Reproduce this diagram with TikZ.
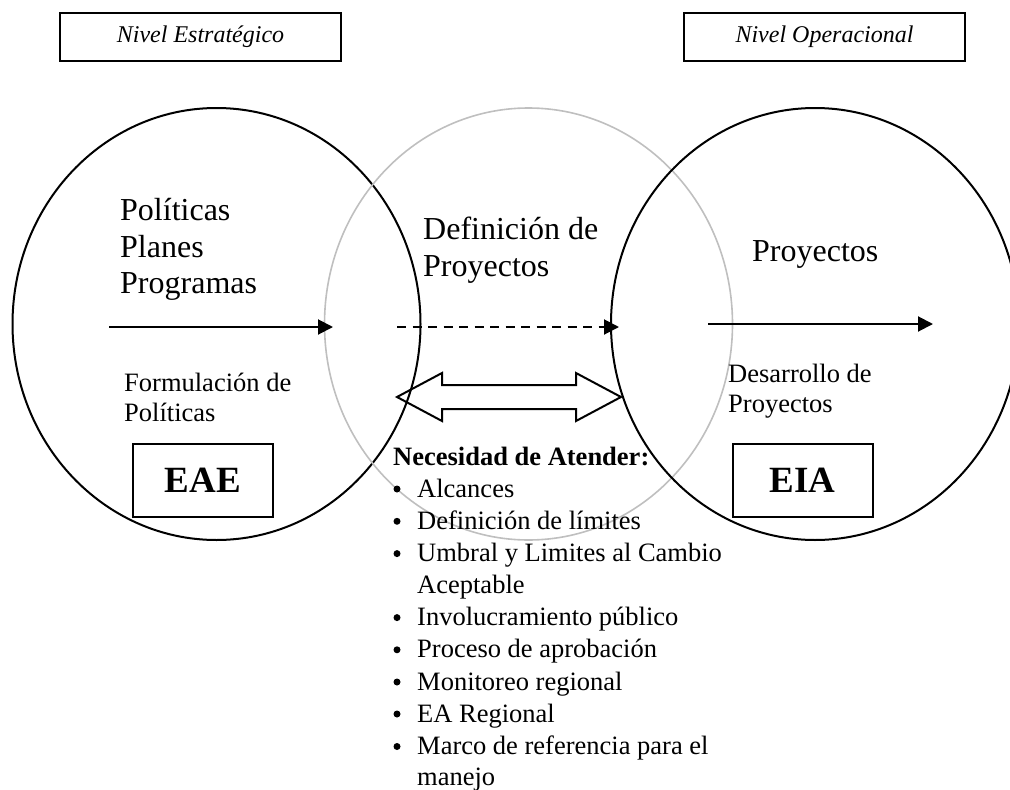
\documentclass[tikz,border=0pt]{standalone}
\usepackage{fontspec}
\setmainfont{Liberation Serif}
\usetikzlibrary{arrows.meta,shapes.geometric}
\begin{document}
\begin{tikzpicture}[x=1pt,y=-1pt,
  ring/.style={ellipse, draw=black, line width=2pt, minimum width=408pt, minimum height=432pt, inner sep=0pt},
  grayring/.style={ellipse, draw=black!25, line width=1.6pt, minimum width=408pt, minimum height=432pt, inner sep=0pt},
  levelbox/.style={draw, line width=2pt, minimum width=281pt, minimum height=48pt, inner sep=0pt, font=\fontsize{24}{28}\selectfont\itshape},
  evalbox/.style={draw, line width=2pt, minimum width=140pt, minimum height=73pt, inner sep=0pt, font=\fontsize{37}{40}\selectfont\bfseries},
  flow/.style={line width=2pt, -{Triangle[length=15pt,width=15pt]}},
  bigtxt/.style={anchor=base west, inner sep=0pt, font=\fontsize{32}{37}\selectfont},
  midtxt/.style={anchor=base west, inner sep=0pt, font=\fontsize{26.5}{30}\selectfont},
  bul/.style={circle, fill=black, inner sep=0pt, minimum size=7pt},
]
\useasboundingbox (0,0) rectangle (1010,790);
\clip (0,0) rectangle (1010,790);

% level boxes
\node[levelbox] (nest) at (200.5,37) {Nivel Estratégico};
\node[levelbox] (nope) at (824.5,37) {Nivel Operacional};

% circles
\node[ring] (c1) at (216.5,324) {};
\node[grayring] (c2) at (528.5,324) {};
\node[ring] (c3) at (815,324) {};

% texts in circles
\node[bigtxt] (t1) at (120,220) {Políticas};
\node[bigtxt] (t2) at (120,257) {Planes};
\node[bigtxt] (t3) at (120,293) {Programas};
\node[bigtxt] (t4) at (423,239) {Definición de};
\node[bigtxt] (t5) at (423,276) {Proyectos};
\node[bigtxt] (t6) at (752,261) {Proyectos};

\node[midtxt] (f1) at (124,391) {Formulación de};
\node[midtxt] (f2) at (124,421) {Políticas};
\node[midtxt] (d1) at (728,382) {Desarrollo de};
\node[midtxt] (d2) at (728,412) {Proyectos};

\node[evalbox] (eae) at (203,480.5) {EAE};
\node[evalbox] (eia) at (802.5,480.5) {EIA};

% arrows
\coordinate (a1s) at (109,327);
\coordinate (a1e) at (333,327);
\coordinate (a2s) at (397,327);
\coordinate (a2e) at (619,327);
\coordinate (a3s) at (708,324);
\coordinate (a3e) at (933,324);
\draw[flow] (a1s) -- (a1e);
\draw[flow, dash pattern=on 9pt off 6.5pt] (a2s) -- (a2e);
\draw[flow] (a3s) -- (a3e);

% double block arrow
\draw[line width=2pt, line join=miter]
  (397,397) -- (442,373) -- (442,385) -- (576,385) -- (576,373) -- (621,397)
  -- (576,421) -- (576,409) -- (442,409) -- (442,421) -- cycle;

% list
\node[anchor=base west, inner sep=0pt, font=\fontsize{26.5}{30}\selectfont\bfseries] (nh) at (393,465) {Necesidad de Atender:};
\foreach \txt/\yy/\nm in {Alcances/497/i1, Definición de límites/529.3/i2, Umbral y Limites al Cambio/561.6/i3, Involucramiento público/625.6/i4, Proceso de aprobación/657.8/i5, Monitoreo regional/690/i6, EA Regional/722/i7, Marco de referencia para el/754.5/i8}{
  \node[bul] (b\nm) at (397,\yy-8) {};
  \node[midtxt] (\nm) at (417,\yy) {\txt};
}
\node[midtxt] (i3b) at (417,593.3) {Aceptable};
\node[midtxt] (i8b) at (417,785) {manejo};
\end{tikzpicture}
\end{document}
